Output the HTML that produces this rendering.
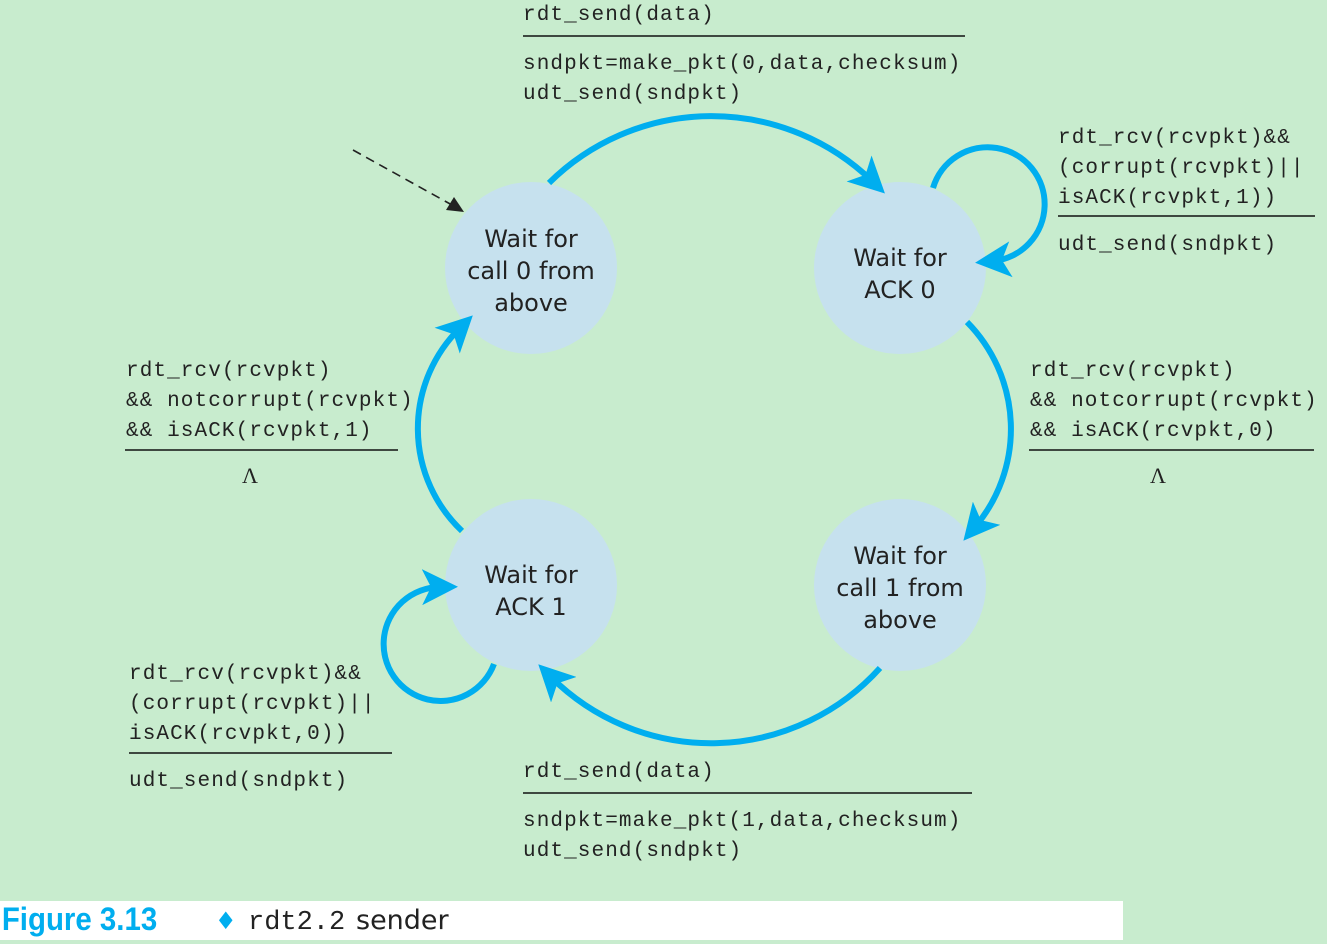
<!DOCTYPE html>
<html><head><meta charset="utf-8"><style>
html,body{margin:0;padding:0;background:#c8ecce;}
svg{display:block}
.m{font-family:"Liberation Mono",monospace;font-size:21px;fill:#222;letter-spacing:1.1px}
.s{font-family:"DejaVu Sans","Liberation Sans",sans-serif;font-size:24px;fill:#222;text-anchor:middle}
</style></head><body>
<svg width="1327" height="944" viewBox="0 0 1327 944" xmlns="http://www.w3.org/2000/svg">
<defs>
<marker id="a" markerWidth="6" markerHeight="6" refX="3" refY="3" orient="auto" markerUnits="strokeWidth">
<path d="M0,0 L6,3 L0,6 L1.5,3 z" fill="#00aeef"/></marker>
</defs>
<rect width="1327" height="944" fill="#c8ecce"/>
<g fill="#c6e1ee">
<circle cx="531" cy="268" r="86"/><circle cx="900" cy="268" r="86"/>
<circle cx="531" cy="585" r="86"/><circle cx="900" cy="585" r="86"/>
</g>
<g fill="none" stroke="#00aeef" stroke-width="6" marker-end="url(#a)">
<path d="M549,183 A231,231 0 0 1 872,181"/>
<path d="M967,322 A152,152 0 0 1 975,527"/>
<path d="M880,668 A227,227 0 0 1 551,677"/>
<path d="M462,531 A141,141 0 0 1 460,328"/>
<path d="M933,188 A57,57 0 1 1 993,261"/>
<path d="M494,664 A57,57 0 1 1 440,587"/>
</g>
<line x1="353" y1="150" x2="452" y2="205" stroke="#222" stroke-width="1.6" stroke-dasharray="9,6"/>
<path d="M464,212 L446,210 L454,197 z" fill="#222"/>
<text class="s" x="531" y="247">Wait for</text>
<text class="s" x="531" y="279">call 0 from</text>
<text class="s" x="531" y="311">above</text>
<text class="s" x="900" y="266">Wait for</text>
<text class="s" x="900" y="298">ACK 0</text>
<text class="s" x="531" y="583">Wait for</text>
<text class="s" x="531" y="615">ACK 1</text>
<text class="s" x="900" y="564">Wait for</text>
<text class="s" x="900" y="596">call 1 from</text>
<text class="s" x="900" y="628">above</text>
<g stroke="#111" stroke-width="1.6">
<line x1="523" y1="36" x2="965" y2="36"/>
<line x1="1058" y1="216" x2="1315" y2="216"/>
<line x1="125" y1="450" x2="398" y2="450"/>
<line x1="1029" y1="450" x2="1314" y2="450"/>
<line x1="129" y1="753" x2="392" y2="753"/>
<line x1="523" y1="793" x2="972" y2="793"/>
</g>
<text class="m" x="523" y="20">rdt_send(data)</text>
<text class="m" x="523" y="69">sndpkt=make_pkt(0,data,checksum)</text>
<text class="m" x="523" y="99">udt_send(sndpkt)</text>
<text class="m" x="1058" y="143">rdt_rcv(rcvpkt)&amp;&amp;</text>
<text class="m" x="1058" y="173">(corrupt(rcvpkt)||</text>
<text class="m" x="1058" y="203">isACK(rcvpkt,1))</text>
<text class="m" x="1058" y="250">udt_send(sndpkt)</text>
<text class="m" x="126" y="376">rdt_rcv(rcvpkt)</text>
<text class="m" x="126" y="406">&amp;&amp; notcorrupt(rcvpkt)</text>
<text class="m" x="126" y="436">&amp;&amp; isACK(rcvpkt,1)</text>
<text x="250" y="483" font-family="Liberation Serif,serif" font-size="22" fill="#222" text-anchor="middle">Λ</text>
<text class="m" x="1030" y="376">rdt_rcv(rcvpkt)</text>
<text class="m" x="1030" y="406">&amp;&amp; notcorrupt(rcvpkt)</text>
<text class="m" x="1030" y="436">&amp;&amp; isACK(rcvpkt,0)</text>
<text x="1158" y="483" font-family="Liberation Serif,serif" font-size="22" fill="#222" text-anchor="middle">Λ</text>
<text class="m" x="129" y="679">rdt_rcv(rcvpkt)&amp;&amp;</text>
<text class="m" x="129" y="709">(corrupt(rcvpkt)||</text>
<text class="m" x="129" y="739">isACK(rcvpkt,0))</text>
<text class="m" x="129" y="786">udt_send(sndpkt)</text>
<text class="m" x="523" y="777">rdt_send(data)</text>
<text class="m" x="523" y="826">sndpkt=make_pkt(1,data,checksum)</text>
<text class="m" x="523" y="856">udt_send(sndpkt)</text>
<rect x="0" y="901" width="1123" height="39" fill="#fff"/>
<text x="2" y="930" font-family="Liberation Sans,sans-serif" font-weight="bold" font-size="32" fill="#00aeef" transform="scale(0.92,1)">Figure 3.13</text>
<text x="215" y="929" font-family="DejaVu Sans,sans-serif" font-size="24" fill="#00aeef">♦</text>
<text x="248" y="929" font-family="Liberation Mono,monospace" font-size="27" fill="#222">rdt2.2</text>
<text x="356" y="929" font-family="DejaVu Sans,sans-serif" font-size="27" fill="#222">sender</text>
</svg>
</body></html>
